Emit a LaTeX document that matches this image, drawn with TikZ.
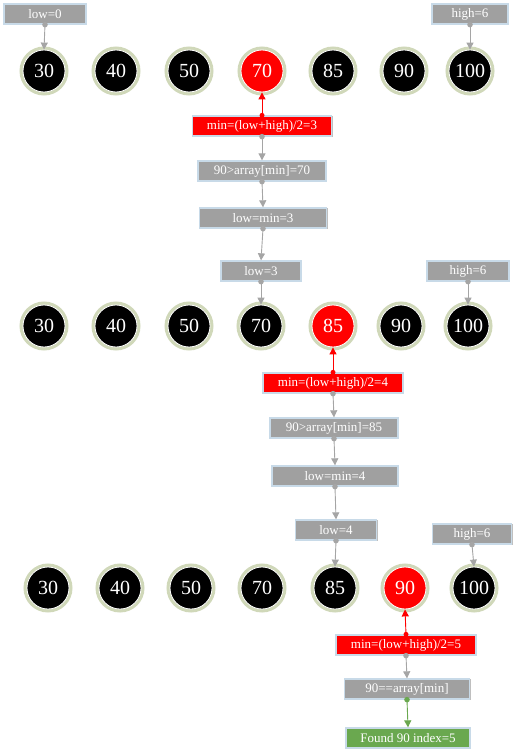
\documentclass[tikz,border=0pt]{standalone}
\usepackage{fontspec}
\setmainfont{Liberation Serif}
\usetikzlibrary{arrows.meta}
\definecolor{halo}{RGB}{196,206,168}
\definecolor{boxgray}{RGB}{160,160,160}
\definecolor{boxedge}{RGB}{200,218,232}
\definecolor{linegray}{RGB}{165,165,165}
\definecolor{myred}{RGB}{255,0,0}
\definecolor{mygreen}{RGB}{106,168,79}
\tikzset{
  num/.style={circle, fill=black, draw=white, line width=0.8pt, minimum size=42pt, inner sep=0pt,
    text=white, font=\fontsize{20}{20}\selectfont,
    preaction={draw=halo, line width=7pt, opacity=0.8}},
  rednum/.style={num, fill=myred},
  gbox/.style={rectangle, fill=boxgray, draw=boxedge, line width=1.3pt, text=white,
    font=\fontsize{13}{13}\selectfont, minimum height=20pt, inner sep=0pt,
    preaction={draw=black!25, line width=1.3pt, transform canvas={shift={(0.8pt,-0.8pt)}}}},
  rbox/.style={gbox, fill=myred},
  grbox/.style={gbox, fill=mygreen},
  conn/.style={draw=linegray, line width=0.9pt, -{Triangle[width=7pt,length=7pt]}},
  rconn/.style={conn, draw=myred},
  gconn/.style={conn, draw=mygreen},
}
\begin{document}
\begin{tikzpicture}[x=1pt,y=-1pt]
\useasboundingbox (0,0) rectangle (520,754);
% row 1
\foreach \v/\x [count=\i] in {30/44,40/116,50/189,70/262,85/333,90/404,100/470}{
  \ifnum\i=4 \node[rednum] (a\i) at (\x,71) {\v};
  \else \node[num] (a\i) at (\x,71) {\v}; \fi
}
\node[gbox, minimum width=82pt] (low0) at (45,14) {low=0};
\node[gbox, minimum width=76pt] (high0) at (470,14) {high=6};
\node[rbox, minimum width=139pt] (m1) at (262,126) {min=(low+high)/2=3};
\node[gbox, minimum width=128pt] (c1) at (262,171) {90>array[min]=70};
\node[gbox, minimum width=127pt] (l1) at (263,218) {low=min=3};
% row 2
\foreach \v/\x [count=\i] in {30/44,40/116,50/189,70/261,85/333,90/401,100/468}{
  \ifnum\i=5 \node[rednum] (b\i) at (\x,326) {\v};
  \else \node[num] (b\i) at (\x,326) {\v}; \fi
}
\node[gbox, minimum width=80pt] (low1) at (261,271) {low=3};
\node[gbox, minimum width=82pt] (high1) at (468,271) {high=6};
\node[rbox, minimum width=140pt] (m2) at (333,383) {min=(low+high)/2=4};
\node[gbox, minimum width=128pt] (c2) at (334,428) {90>array[min]=85};
\node[gbox, minimum width=126pt] (l2) at (335,476) {low=min=4};
% row 3
\foreach \v/\x [count=\i] in {30/48,40/120,50/191,70/262,85/335,90/405,100/474}{
  \ifnum\i=6 \node[rednum] (d\i) at (\x,588) {\v};
  \else \node[num] (d\i) at (\x,588) {\v}; \fi
}
\node[gbox, minimum width=81pt] (low2) at (336,530) {low=4};
\node[gbox, minimum width=79pt] (high2) at (472,534) {high=6};
\node[rbox, minimum width=140pt] (m3) at (406,645) {min=(low+high)/2=5};
\node[gbox, minimum width=125pt] (c3) at (407,689) {90==array[min]};
\node[grbox, minimum width=124pt] (f3) at (408,738) {Found 90 index=5};
% connectors
\draw[conn] (low0.south) -- (a1.north);
\draw[conn] (high0.south) -- (a7.north);
\draw[rconn] (m1.north) -- (a4.south);
\draw[conn] (m1.south) -- (c1.north);
\draw[conn] (c1.south) -- (l1.north);
\draw[conn] (l1.south) -- (low1.north);
\draw[conn] (low1.south) -- (b4.north);
\draw[conn] (high1.south) -- (b7.north);
\draw[rconn] (m2.north) -- (b5.south);
\draw[conn] (m2.south) -- (c2.north);
\draw[conn] (c2.south) -- (l2.north);
\draw[conn] (l2.south) -- (low2.north);
\draw[conn] (low2.south) -- (d5.north);
\draw[conn] (high2.south) -- (d7.north);
\draw[rconn] (m3.north) -- (d6.south);
\draw[conn] (m3.south) -- (c3.north);
\draw[gconn] (c3.south) -- (f3.north);
% start dots
\foreach \n in {low0,high0,m1,c1,l1,low1,high1,m2,c2,l2,low2,high2,m3}{
  \fill[linegray] (\n.south) circle (2.8pt);
}
\foreach \n in {m1,m2,m3}{ \fill[myred] (\n.north) circle (2.5pt); }
\fill[mygreen] (c3.south) circle (2.8pt);
\end{tikzpicture}
\end{document}
